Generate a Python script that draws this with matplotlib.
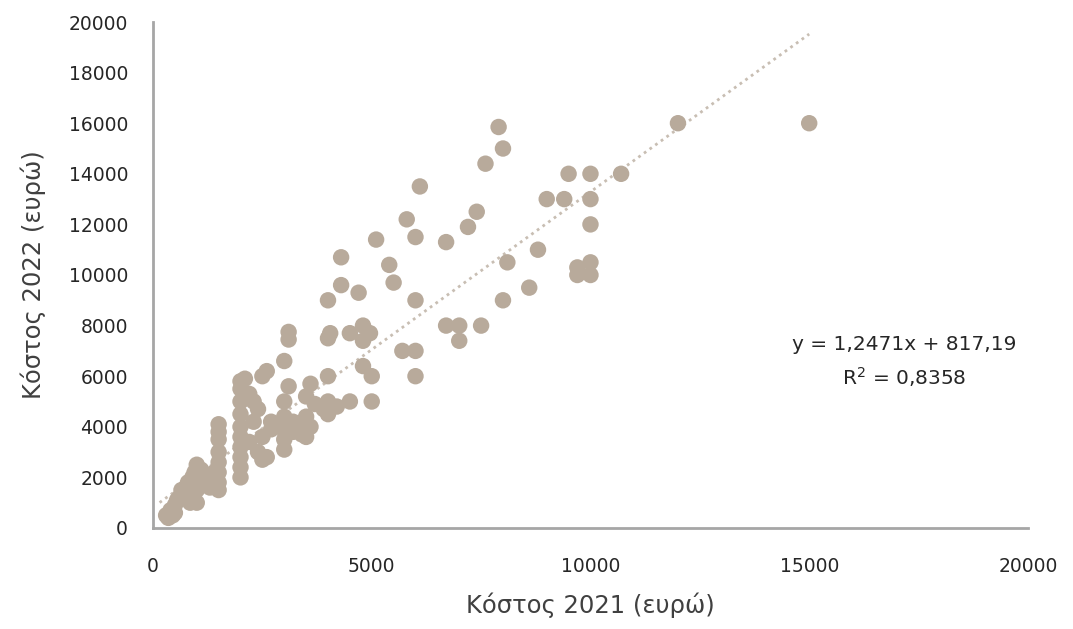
import numpy as np
import matplotlib
matplotlib.use("Agg")
import matplotlib.pyplot as plt

# Κόστος 2021 / 2022 (ευρώ)
cost_2021 = [
    300, 350, 400, 450, 500, 500, 550, 600, 650, 700, 750, 800, 800, 850, 900, 900, 950,
    1000, 1000, 1000, 1000, 1100, 1200, 1200, 1300, 1300, 1400,
    1500, 1500, 1500, 1500, 1500, 1500, 1500, 1500,
    2000, 2000, 2000, 2000, 2000, 2000, 2000, 2000, 2000, 2000,
    2100, 2200, 2300, 2400, 2500, 2600, 2200, 2400, 2500, 2500, 2600, 2300, 2700, 2800, 2700,
    3000, 3100, 3100, 3100, 3000, 3000, 3000, 3000, 3000, 3200, 3300, 3400, 3500, 3500, 3600,
    3500, 3200, 3600,
    3900, 4000, 4000, 4000, 4000, 4050, 4000, 4300, 4300, 4500, 4700, 4800, 4960, 4800, 4800,
    5000, 4500, 5000, 4200, 3700,
    5100, 5400, 5500, 5700, 6000, 6000, 6000, 6000, 5800, 6100,
    6700, 6700, 7000, 7000, 7200, 7400, 7500, 7600, 7900, 8000, 8000, 8100,
    8600, 8800, 9000, 9400, 10000, 9500, 10000, 10700, 10000, 9700, 10000, 9700, 10000,
    12000, 15000,
]
cost_2022 = [
    500, 400, 700, 500, 600, 900, 1100, 1200, 1500, 1400, 1600, 1800, 1300, 1000, 2000, 1700, 2200,
    2500, 1000, 2000, 1500, 2300, 2100, 1700, 1600, 2000, 2200,
    4100, 3800, 3500, 3000, 2600, 2200, 1800, 1500,
    5800, 5500, 5000, 4500, 4000, 3600, 3200, 2800, 2400, 2000,
    5900, 5300, 5000, 4700, 6000, 6200, 3400, 3000, 3600, 2700, 2800, 4200, 3900, 4000, 4200,
    6600, 7750, 7450, 5600, 5000, 4400, 3900, 3500, 3100, 4200, 4000, 3700, 5200, 4400, 5700,
    3600, 3800, 4000,
    4700, 5000, 4500, 6000, 7500, 7700, 9000, 10700, 9600, 7700, 9300, 8000, 7700, 7400, 6400,
    6000, 5000, 5000, 4800, 4900,
    11400, 10400, 9700, 7000, 7000, 6000, 9000, 11500, 12200, 13500,
    11300, 8000, 8000, 7400, 11900, 12500, 8000, 14400, 15850, 15000, 9000, 10500,
    9500, 11000, 13000, 13000, 13000, 14000, 14000, 14000, 12000, 10300, 10500, 10000, 10000,
    16000, 16000,
]

# trendline as reported in the chart
slope = 1.2471
intercept = 817.19
r_squared = 0.8358

x_ticks = [0, 5000, 10000, 15000, 20000]
y_ticks = list(range(0, 20001, 2000))

point_color = "#B8AA9B"
grey = "#A6A6A6"
text_color = "#262626"

fig = plt.figure(figsize=(10.73, 6.29), dpi=100)
ax = fig.add_axes([0.1426, 0.1606, 0.8154, 0.8044])

ax.scatter(cost_2021, cost_2022, s=140, color=point_color, edgecolors="none", zorder=3)

xs = np.linspace(150, max(cost_2021), 200)
ax.plot(xs, slope * xs + intercept, linestyle=(0, (1, 1.5)), color="#C8BEB3",
        linewidth=2.0, zorder=2)

ax.set_xlim(0, 20000)
ax.set_ylim(0, 20000)
ax.set_xticks(x_ticks)
ax.set_yticks(y_ticks)
ax.tick_params(length=0, labelsize=13.5, labelcolor=text_color)
ax.tick_params(axis="y", pad=18)
ax.tick_params(axis="x", pad=21)

for side in ["top", "right"]:
    ax.spines[side].set_visible(False)
for side in ["left", "bottom"]:
    ax.spines[side].set_color(grey)
    ax.spines[side].set_linewidth(2)

ax.set_xlabel("Κόστος 2021 (ευρώ)", fontsize=17.5, color="#404040", labelpad=12)
ax.set_ylabel("Κόστος 2022 (ευρώ)", fontsize=17.5, color="#404040", labelpad=16)

eq = f"y = {slope:.4f}x + {intercept:.2f}".replace(".", ",")
r2 = f"R$^2$ = {r_squared:.4f}".replace(".", ",")
ax.text(17165, 6560, eq + "\n" + r2, ha="center", va="center", fontsize=14.5,
        color=text_color, linespacing=1.55)

fig.savefig("out.png", dpi=100)
